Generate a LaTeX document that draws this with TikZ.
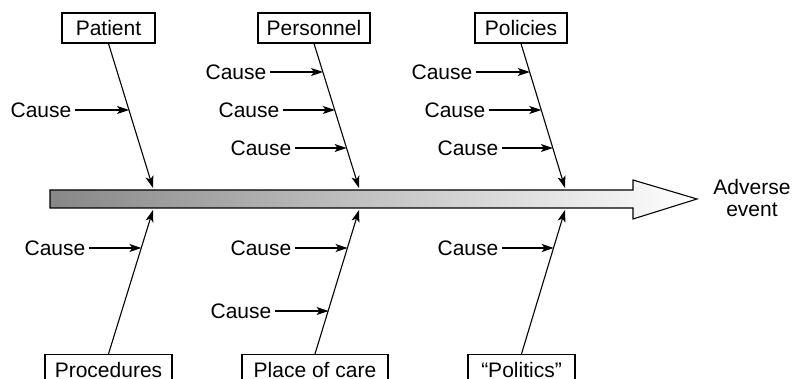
\documentclass[tikz,border=0pt]{standalone}
\usepackage{fontspec}
\setmainfont{Liberation Sans}
\usetikzlibrary{arrows.meta,calc}
\begin{document}
\begin{tikzpicture}[x=1pt,y=-1pt,
  txt/.style={font=\fontsize{21}{22}\selectfont, inner xsep=3.5pt, inner ysep=0pt},
  category/.style={draw, line width=1.2pt, font=\fontsize{21}{22}\selectfont,
    minimum height=30pt, inner sep=0pt},
  bone/.style={line width=1.1pt, -{Stealth[length=12pt,width=8pt,inset=3pt]}},
  causearrow/.style={line width=1.1pt, -{Stealth[length=12pt,width=8pt,inset=3pt]}},
]
\useasboundingbox (0,0) rectangle (793,379);
\clip (0,0) rectangle (793,379);

% spine of the fishbone
\path[draw, line width=1.1pt, left color=black!47, right color=white]
  (50,190) -- (633,190) -- (633,180) -- (697,199) -- (633,219)
  -- (633,208) -- (50,208) -- cycle;
\node[txt, align=center] (event) at (752,198) {Adverse\\event};

% bone tips on the spine
\coordinate (t1) at (153,188);
\coordinate (t2) at (359,188);
\coordinate (t3) at (565,188);
\coordinate (b1) at (153,210);
\coordinate (b2) at (359,210);
\coordinate (b3) at (565,210);

% category boxes
\node[category, minimum width=93pt]  (patient)   at (108.5,28) {Patient};
\node[category, minimum width=112pt] (personnel) at (314,28)   {Personnel};
\node[category, minimum width=92pt]  (policies)  at (521,28)   {Policies};
\node[category, minimum width=127pt] (procedures) at (108.5,369.5) {Procedures};
\node[category, minimum width=146pt] (place)      at (315,369.5)   {Place of care};
\node[category, minimum width=107pt] (politics)   at (521.5,369.5) {``Politics''};

% bones
\draw[bone] (patient.south) -- (t1);
\draw[bone] (personnel.south) -- (t2);
\draw[bone] (policies.south) -- (t3);
\draw[bone] (procedures.north) -- (b1);
\draw[bone] (place.north) -- (b2);
\draw[bone] (politics.north) -- (b3);

% points where causes meet the bones
\coordinate (pa1) at ($(patient.south)!0.462!(t1)$);
\coordinate (pe1) at ($(personnel.south)!0.2!(t2)$);
\coordinate (pe2) at ($(personnel.south)!0.462!(t2)$);
\coordinate (pe3) at ($(personnel.south)!0.724!(t2)$);
\coordinate (po1) at ($(policies.south)!0.2!(t3)$);
\coordinate (po2) at ($(policies.south)!0.462!(t3)$);
\coordinate (po3) at ($(policies.south)!0.724!(t3)$);
\coordinate (pr1) at ($(procedures.north)!0.74!(b1)$);
\coordinate (pl1) at ($(place.north)!0.74!(b2)$);
\coordinate (pl2) at ($(place.north)!0.308!(b2)$);
\coordinate (pt1) at ($(politics.north)!0.74!(b3)$);

% cause labels
\node[txt, anchor=east] (cpa1) at (75,110)  {Cause};
\node[txt, anchor=east] (cpe1) at (270,72)  {Cause};
\node[txt, anchor=east] (cpe2) at (283,110) {Cause};
\node[txt, anchor=east] (cpe3) at (295,148) {Cause};
\node[txt, anchor=east] (cpo1) at (476,72)  {Cause};
\node[txt, anchor=east] (cpo2) at (489,110) {Cause};
\node[txt, anchor=east] (cpo3) at (502,148) {Cause};
\node[txt, anchor=east] (cpr1) at (89,248)  {Cause};
\node[txt, anchor=east] (cpl1) at (295,248) {Cause};
\node[txt, anchor=east] (cpl2) at (275,311) {Cause};
\node[txt, anchor=east] (cpt1) at (502,248) {Cause};

% cause arrows
\draw[causearrow] (cpa1.east) -- (cpa1.east -| pa1);
\draw[causearrow] (cpe1.east) -- (cpe1.east -| pe1);
\draw[causearrow] (cpe2.east) -- (cpe2.east -| pe2);
\draw[causearrow] (cpe3.east) -- (cpe3.east -| pe3);
\draw[causearrow] (cpo1.east) -- (cpo1.east -| po1);
\draw[causearrow] (cpo2.east) -- (cpo2.east -| po2);
\draw[causearrow] (cpo3.east) -- (cpo3.east -| po3);
\draw[causearrow] (cpr1.east) -- (cpr1.east -| pr1);
\draw[causearrow] (cpl1.east) -- (cpl1.east -| pl1);
\draw[causearrow] (cpl2.east) -- (cpl2.east -| pl2);
\draw[causearrow] (cpt1.east) -- (cpt1.east -| pt1);
\end{tikzpicture}
\end{document}
